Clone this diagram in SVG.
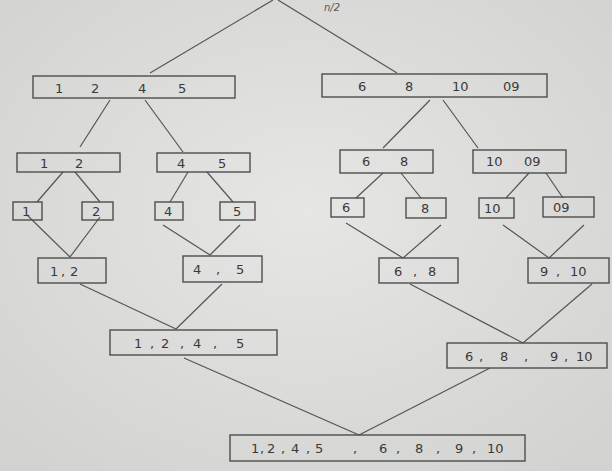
<svg xmlns="http://www.w3.org/2000/svg" width="612" height="471" viewBox="0 0 612 471">
<defs>
<style>
.box{fill:none;stroke:#4d4d4d;stroke-width:1.4}
.edge{fill:none;stroke:#555;stroke-width:1.2}
.t{font-family:"DejaVu Sans",sans-serif;font-size:13px;fill:#3a3a3a}
.lbl{font-family:"DejaVu Sans",sans-serif;font-size:10px;fill:#555;font-style:italic}
</style>
<radialGradient id="bg" cx="50%" cy="45%" r="70%">
<stop offset="0" stop-color="#e6e6e4"/>
<stop offset="1" stop-color="#d2d2d0"/>
</radialGradient>
</defs>
<rect width="612" height="471" fill="url(#bg)"/>
<g id="connectors">
<path class="edge" d="M273 0 L150 73"/>
<path class="edge" d="M278 0 L397 73"/>
<path class="edge" d="M110 100 L80 147"/>
<path class="edge" d="M145 100 L183 152"/>
<path class="edge" d="M430 100 L383 148"/>
<path class="edge" d="M443 100 L478 148"/>
<path class="edge" d="M63 172 L37 202"/>
<path class="edge" d="M75 172 L100 202"/>
<path class="edge" d="M188 172 L170 202"/>
<path class="edge" d="M207 172 L233 202"/>
<path class="edge" d="M383 173 L356 198"/>
<path class="edge" d="M401 173 L421 198"/>
<path class="edge" d="M529 173 L506 198"/>
<path class="edge" d="M546 173 L563 198"/>
<path class="edge" d="M27 215 L70 257"/>
<path class="edge" d="M100 217 L70 257"/>
<path class="edge" d="M163 225 L210 255"/>
<path class="edge" d="M240 225 L210 255"/>
<path class="edge" d="M346 223 L403 258"/>
<path class="edge" d="M441 225 L403 258"/>
<path class="edge" d="M503 225 L549 258"/>
<path class="edge" d="M584 225 L549 258"/>
<path class="edge" d="M80 284 L176 329"/>
<path class="edge" d="M222 284 L176 329"/>
<path class="edge" d="M410 284 L523 343"/>
<path class="edge" d="M592 284 L523 343"/>
<path class="edge" d="M184 358 L359 435"/>
<path class="edge" d="M490 368 L359 435"/>
</g>
<text class="lbl" x="324" y="11">n/2</text>
<g id="n1245"><rect class="box" x="33" y="76" width="202" height="22"/><text class="t" x="55" y="93">1</text><text class="t" x="91" y="93">2</text><text class="t" x="138" y="93">4</text><text class="t" x="178" y="93">5</text></g>
<g id="n681009"><rect class="box" x="322" y="74" width="225" height="23"/><text class="t" x="358" y="91">6</text><text class="t" x="405" y="91">8</text><text class="t" x="452" y="91">10</text><text class="t" x="503" y="91">09</text></g>
<g id="n12"><rect class="box" x="17" y="153" width="103" height="19"/><text class="t" x="40" y="168">1</text><text class="t" x="75" y="168">2</text></g>
<g id="n45"><rect class="box" x="157" y="153" width="93" height="19"/><text class="t" x="177" y="168">4</text><text class="t" x="218" y="168">5</text></g>
<g id="n68"><rect class="box" x="340" y="150" width="93" height="23"/><text class="t" x="362" y="166">6</text><text class="t" x="400" y="166">8</text></g>
<g id="n1009"><rect class="box" x="473" y="150" width="93" height="23"/><text class="t" x="486" y="166">10</text><text class="t" x="524" y="166">09</text></g>
<g id="s1"><rect class="box" x="13" y="202" width="29" height="18"/><text class="t" x="22" y="216">1</text></g>
<g id="s2"><rect class="box" x="82" y="202" width="31" height="18"/><text class="t" x="92" y="216">2</text></g>
<g id="s4"><rect class="box" x="155" y="202" width="28" height="18"/><text class="t" x="164" y="216">4</text></g>
<g id="s5"><rect class="box" x="220" y="202" width="35" height="18"/><text class="t" x="233" y="216">5</text></g>
<g id="s6"><rect class="box" x="331" y="198" width="33" height="19"/><text class="t" x="342" y="212">6</text></g>
<g id="s8"><rect class="box" x="406" y="198" width="40" height="20"/><text class="t" x="421" y="213">8</text></g>
<g id="s10"><rect class="box" x="479" y="198" width="35" height="20"/><text class="t" x="484" y="213">10</text></g>
<g id="s09"><rect class="box" x="543" y="197" width="51" height="20"/><text class="t" x="553" y="212">09</text></g>
<g id="m12"><rect class="box" x="38" y="258" width="68" height="25"/><text class="t" y="276"><tspan x="50">1</tspan><tspan x="61">,</tspan><tspan x="70">2</tspan></text></g>
<g id="m45"><rect class="box" x="183" y="256" width="79" height="26"/><text class="t" y="274"><tspan x="193">4</tspan><tspan x="216">,</tspan><tspan x="236">5</tspan></text></g>
<g id="m68"><rect class="box" x="379" y="258" width="79" height="25"/><text class="t" y="276"><tspan x="394">6</tspan><tspan x="413">,</tspan><tspan x="428">8</tspan></text></g>
<g id="m910"><rect class="box" x="528" y="258" width="81" height="25"/><text class="t" y="276"><tspan x="540">9</tspan><tspan x="556">,</tspan><tspan x="570">10</tspan></text></g>
<g id="m1245"><rect class="box" x="110" y="330" width="167" height="25"/><text class="t" y="348"><tspan x="134">1</tspan><tspan x="150">,</tspan><tspan x="161">2</tspan><tspan x="180">,</tspan><tspan x="193">4</tspan><tspan x="213">,</tspan><tspan x="236">5</tspan></text></g>
<g id="m681910"><rect class="box" x="447" y="343" width="160" height="25"/><text class="t" y="361"><tspan x="465">6</tspan><tspan x="479">,</tspan><tspan x="500">8</tspan><tspan x="524">,</tspan><tspan x="550">9</tspan><tspan x="564">,</tspan><tspan x="576">10</tspan></text></g>
<g id="final"><rect class="box" x="230" y="435" width="295" height="26"/><text class="t" y="453"><tspan x="251">1</tspan><tspan x="260">,</tspan><tspan x="267">2</tspan><tspan x="281">,</tspan><tspan x="291">4</tspan><tspan x="306">,</tspan><tspan x="315">5</tspan><tspan x="353">,</tspan><tspan x="379">6</tspan><tspan x="396">,</tspan><tspan x="415">8</tspan><tspan x="436">,</tspan><tspan x="455">9</tspan><tspan x="472">,</tspan><tspan x="487">10</tspan></text></g>
</svg>
